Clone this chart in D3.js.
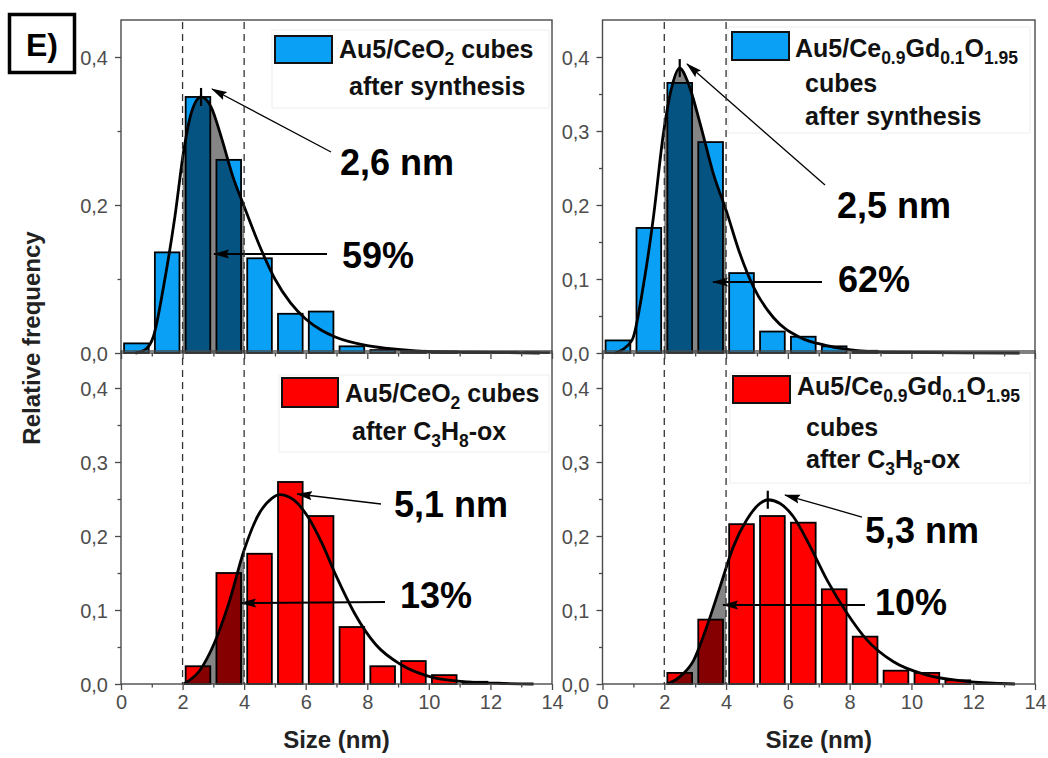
<!DOCTYPE html>
<html><head><meta charset="utf-8">
<script src="https://cdn.jsdelivr.net/npm/d3@7"></script>
<style>
body{margin:0;background:#fff}
svg{display:block}
text{font-family:"Liberation Sans",Arial,sans-serif}
</style>
</head><body>
<svg id="c" width="1048" height="758"></svg>
<script>
// ---------------- DATA ----------------
const binStart = [0,1,2,3,4,5,6,7,8,9,10,11,12,13];
const freqSynthCeO2  = [0.013,0.136,0.346,0.261,0.128,0.053,0.056,0.009,0.004,0.003,0.002,0.001,0.001,0.001];
const freqSynthCGO   = [0.017,0.169,0.365,0.285,0.108,0.029,0.022,0.009,0.003,0.001,0,0,0,0];
const freqOxCeO2     = [0,0,0.024,0.150,0.176,0.273,0.227,0.077,0.024,0.031,0.012,0.003,0,0];
const freqOxCGO      = [0,0,0.015,0.087,0.216,0.227,0.218,0.128,0.064,0.018,0.015,0.005,0.001,0];

const fitSynthCeO2X = [0.47,0.8,1.05,1.4,1.75,2.04,2.28,2.6,2.92,3.27,3.62,4.0,4.5,5.0,5.5,6.0,6.5,7.0,8.0,9.0,10.0,11.5,13.6];
const fitSynthCeO2Y = [0,0.005,0.022,0.094,0.184,0.274,0.324,0.346,0.333,0.290,0.240,0.198,0.145,0.100,0.068,0.046,0.031,0.021,0.010,0.005,0.002,0.001,0];
const fitSynthCGOX  = [0.41,0.95,1.33,1.65,1.97,2.24,2.5,2.78,3.16,3.59,4.0,4.45,4.89,5.53,6.4,7.26,8.34,9.4,13.5];
const fitSynthCGOY  = [0,0.017,0.093,0.184,0.296,0.359,0.385,0.364,0.310,0.242,0.193,0.134,0.089,0.048,0.021,0.010,0.003,0.001,0];
const fitOxCeO2X    = [2.04,2.57,3.03,3.5,4.0,4.43,4.9,5.15,5.6,6.07,6.53,7.0,7.58,8.28,9.1,10.03,11.2,12.25,13.4];
const fitOxCeO2Y    = [0,0.019,0.055,0.109,0.181,0.226,0.251,0.256,0.249,0.226,0.190,0.145,0.096,0.053,0.026,0.010,0.003,0.001,0];
const fitOxCGOX     = [2.08,2.51,2.95,3.38,3.81,4.24,4.67,5.1,5.35,5.75,6.18,6.72,7.26,7.91,8.55,9.42,10.5,11.57,12.65,13.35];
const fitOxCGOY     = [0,0.010,0.032,0.078,0.132,0.186,0.222,0.244,0.249,0.244,0.226,0.186,0.141,0.096,0.060,0.030,0.012,0.0045,0.001,0];

const peakSize   = [2.6, 2.5, 5.1, 5.35];
const peakHeight = [0.346, 0.385, 0.256, 0.249];
const peakLabels = ["2,6 nm","2,5 nm","5,1 nm","5,3 nm"];
const shareLabels = ["59%","62%","13%","10%"];
const rangeLow = 2, rangeHigh = 4;

const sizeMajor = [0,2,4,6,8,10,12,14];
const sizeMinor = [1,3,5,7,9,11,13];
const freqMajorSparse = [0,0.2,0.4];
const freqMinorSparse = [0.1,0.3];
const freqMajor = [0,0.1,0.2,0.3,0.4];
const freqMinor = [0.05,0.15,0.25,0.35];

const legendCeO2Synth = [[[ "Au5/CeO",0],["2",1],[" cubes",0]], [["after synthesis",0]]];
const legendCGOSynth  = [[["Au5/Ce",0],["0.9",1],["Gd",0],["0.1",1],["O",0],["1.95",1]], [["cubes",0]], [["after synthesis",0]]];
const legendCeO2Ox    = [[[ "Au5/CeO",0],["2",1],[" cubes",0]], [["after C",0],["3",1],["H",0],["8",1],["-ox",0]]];
const legendCGOOx     = [[["Au5/Ce",0],["0.9",1],["Gd",0],["0.1",1],["O",0],["1.95",1]], [["cubes",0]], [["after C",0],["3",1],["H",0],["8",1],["-ox",0]]];

// ---------------- LAYOUT ----------------
const colX = [[121,552],[602.5,1035]];
const rowY = [[353,20],[684,351]];
const blue = "#0aa0f5", red = "#ff0000";

const panels = [
  {col:0,row:0,bars:freqSynthCeO2,fx:fitSynthCeO2X,fy:fitSynthCeO2Y,color:blue,yMaj:freqMajorSparse,yMin:freqMinorSparse,xLab:false,legend:legendCeO2Synth,
   lg:{box:[272,30,277,78],sw:[275,36,57,27],lines:[[339,58],[349,95]]},
   nm:{t:[340,175],a:[331,152,212,89]}, pc:{t:[342,268],a:[327,254,214,254]}, mark:true},
  {col:1,row:0,bars:freqSynthCGO,fx:fitSynthCGOX,fy:fitSynthCGOY,color:blue,yMaj:freqMajor,yMin:freqMinor,xLab:false,legend:legendCGOSynth,
   lg:{box:[728,27,302,106],sw:[732,32,57,28],lines:[[795,57],[805,92],[805,125]]},
   nm:{t:[837,218],a:[825,185,687,64]}, pc:{t:[838,292],a:[822,282,713,282]}, mark:true},
  {col:0,row:1,bars:freqOxCeO2,fx:fitOxCeO2X,fy:fitOxCeO2Y,color:red,yMaj:freqMajor,yMin:freqMinor,xLab:true,legend:legendCeO2Ox,
   lg:{box:[279,375,270,77],sw:[282,378,56,29],lines:[[345,402],[352,440]]},
   nm:{t:[394,517],a:[381,504,297,494]}, pc:{t:[400,608],a:[385,602,241,603]}, mark:false},
  {col:1,row:1,bars:freqOxCGO,fx:fitOxCGOX,fy:fitOxCGOY,color:red,yMaj:freqMajor,yMin:freqMinor,xLab:true,legend:legendCGOOx,
   lg:{box:[730,373,300,110],sw:[733,376,57,27],lines:[[797,395],[806,436],[806,468]]},
   nm:{t:[865,543],a:[862,517,785,495]}, pc:{t:[875,615],a:[865,605,723,605]}, mark:true}
];

const svg = d3.select("#c");
const defs = svg.append("defs");
defs.append("marker").attr("id","arr").attr("markerUnits","userSpaceOnUse")
  .attr("viewBox","0 0 16 10").attr("markerWidth",16).attr("markerHeight",10)
  .attr("refX",15).attr("refY",5).attr("orient","auto")
  .append("path").attr("d","M0,0.5 L16,5 L0,9.5 L2.5,5 Z").attr("fill","#000");

const fmt = v => d3.format(".1f")(v).replace(".", ",");

function richText(sel, x, y, segs, size){
  const t = sel.append("text").attr("x",x).attr("y",y).attr("font-size",size).attr("font-weight","bold").attr("fill","#111");
  let sub = false;
  segs.forEach(([s,isSub]) => {
    const ts = t.append("tspan").text(s);
    if (isSub) {
      ts.attr("font-size", size*0.7);
      if (!sub) { ts.attr("dy", size*0.28); sub = true; }
    } else if (sub) { ts.attr("dy", -size*0.28); sub = false; }
  });
}

panels.forEach((p,i) => {
  const [x0,x1] = colX[p.col], [yb,yt] = rowY[p.row];
  const x = d3.scaleLinear().domain([0,14]).range([x0,x1]);
  const y = d3.scaleLinear().domain([0,0.45]).range([yb,yt]);
  const g = svg.append("g");

  g.selectAll("rect.bar").data(binStart.map((b,k)=>({b, v:p.bars[k]})).filter(d=>d.v>0))
    .join("rect").attr("class","bar")
    .attr("x", d=>x(d.b+0.1)).attr("width", d=>x(d.b+0.9)-x(d.b+0.1))
    .attr("y", d=>y(d.v)).attr("height", d=>y(0)-y(d.v))
    .attr("fill", p.color).attr("stroke","#000").attr("stroke-width",1.8);

  const pts = p.fx.map((v,k)=>[v,p.fy[k]]);
  const cid = "clip"+i;
  defs.append("clipPath").attr("id",cid).append("rect")
    .attr("x",x(rangeLow)).attr("width",x(rangeHigh)-x(rangeLow)).attr("y",yt).attr("height",yb-yt);
  g.append("path").datum(pts)
    .attr("d", d3.area().x(d=>x(d[0])).y0(y(0)).y1(d=>y(d[1])).curve(d3.curveMonotoneX))
    .attr("clip-path",`url(#${cid})`).attr("fill","#000").attr("fill-opacity",0.48);

  g.append("path").datum(pts)
    .attr("d", d3.line().x(d=>x(d[0])).y(d=>y(d[1])).curve(d3.curveMonotoneX))
    .attr("fill","none").attr("stroke","#000").attr("stroke-width",2.8);

  if (p.mark){
    g.append("line").attr("x1",x(peakSize[i])).attr("x2",x(peakSize[i]))
      .attr("y1",y(peakHeight[i])-9).attr("y2",y(peakHeight[i])+9)
      .attr("stroke","#000").attr("stroke-width",2.2);
  }

  g.append("rect").attr("x",x0).attr("y",yt).attr("width",x1-x0).attr("height",yb-yt)
    .attr("fill","none").attr("stroke","#4a4a4a").attr("stroke-width",1.4);

  const ya = g.append("g").attr("transform",`translate(${x0},0)`)
    .call(d3.axisLeft(y).tickValues(p.yMaj).tickSize(6).tickFormat(fmt));
  const ym = g.append("g").attr("transform",`translate(${x0},0)`)
    .call(d3.axisLeft(y).tickValues(p.yMin).tickSize(3.5).tickFormat(""));
  [ya,ym].forEach(a=>{ a.select(".domain").remove(); a.selectAll("line").attr("stroke","#4a4a4a").attr("stroke-width",1.3); });
  ya.selectAll("text").attr("font-size",20).attr("fill","#4d4d4d").attr("font-family","Liberation Sans, Arial, sans-serif").attr("x",-13).attr("dy","0.36em");

  const xa = g.append("g").attr("transform",`translate(0,${yb})`)
    .call(d3.axisBottom(x).tickValues(sizeMajor).tickSize(6).tickFormat(p.xLab ? d3.format("d") : ""));
  const xm = g.append("g").attr("transform",`translate(0,${yb})`)
    .call(d3.axisBottom(x).tickValues(sizeMinor).tickSize(3.5).tickFormat(""));
  [xa,xm].forEach(a=>{ a.select(".domain").remove(); a.selectAll("line").attr("stroke","#4a4a4a").attr("stroke-width",1.3); });
  xa.selectAll("text").attr("font-size",20).attr("fill","#4d4d4d").attr("font-family","Liberation Sans, Arial, sans-serif").attr("y",11).attr("dy","0.71em");

  const L = p.lg;
  g.append("rect").attr("x",L.box[0]).attr("y",L.box[1]).attr("width",L.box[2]).attr("height",L.box[3])
    .attr("fill","#fff").attr("stroke","#eeeeee").attr("stroke-width",1);
  g.append("rect").attr("x",L.sw[0]).attr("y",L.sw[1]).attr("width",L.sw[2]).attr("height",L.sw[3])
    .attr("fill",p.color).attr("stroke","#111").attr("stroke-width",2);
  p.legend.forEach((segs,k)=> richText(g, L.lines[k][0], L.lines[k][1], segs, 25));

  g.append("line").attr("x1",p.nm.a[0]).attr("y1",p.nm.a[1]).attr("x2",p.nm.a[2]).attr("y2",p.nm.a[3])
    .attr("stroke","#000").attr("stroke-width",1.3).attr("marker-end","url(#arr)");
  g.append("text").attr("x",p.nm.t[0]).attr("y",p.nm.t[1]).attr("font-size",36).attr("font-weight","bold").attr("fill","#000").text(peakLabels[i]);
  g.append("line").attr("x1",p.pc.a[0]).attr("y1",p.pc.a[1]).attr("x2",p.pc.a[2]).attr("y2",p.pc.a[3])
    .attr("stroke","#000").attr("stroke-width",2).attr("marker-end","url(#arr)");
  g.append("text").attr("x",p.pc.t[0]).attr("y",p.pc.t[1]).attr("font-size",36).attr("font-weight","bold").attr("fill","#000").text(shareLabels[i]);
});

[0,1].forEach(c=>{
  const x = d3.scaleLinear().domain([0,14]).range(colX[c]);
  [rangeLow, rangeHigh].forEach(v=>{
    svg.append("line").attr("x1",x(v)).attr("x2",x(v)).attr("y1",rowY[0][1]+2).attr("y2",rowY[1][0])
      .attr("stroke","#333").attr("stroke-width",1.3).attr("stroke-dasharray","7,5");
  });
});

svg.append("text").attr("transform","translate(40,338) rotate(-90)").attr("text-anchor","middle")
  .attr("font-size",24).attr("font-weight","bold").attr("fill","#222").text("Relative frequency");
[0,1].forEach(c=>{
  svg.append("text").attr("x",(colX[c][0]+colX[c][1])/2).attr("y",748).attr("text-anchor","middle")
    .attr("font-size",24).attr("font-weight","bold").attr("fill","#222").text("Size (nm)");
});

svg.append("rect").attr("x",9.5).attr("y",14.5).attr("width",65).attr("height",58)
  .attr("fill","#fff").attr("stroke","#000").attr("stroke-width",3.5);
svg.append("text").attr("x",42).attr("y",56).attr("text-anchor","middle")
  .attr("font-size",32).attr("font-weight","bold").attr("fill","#000").text("E)");
</script>
</body></html>
